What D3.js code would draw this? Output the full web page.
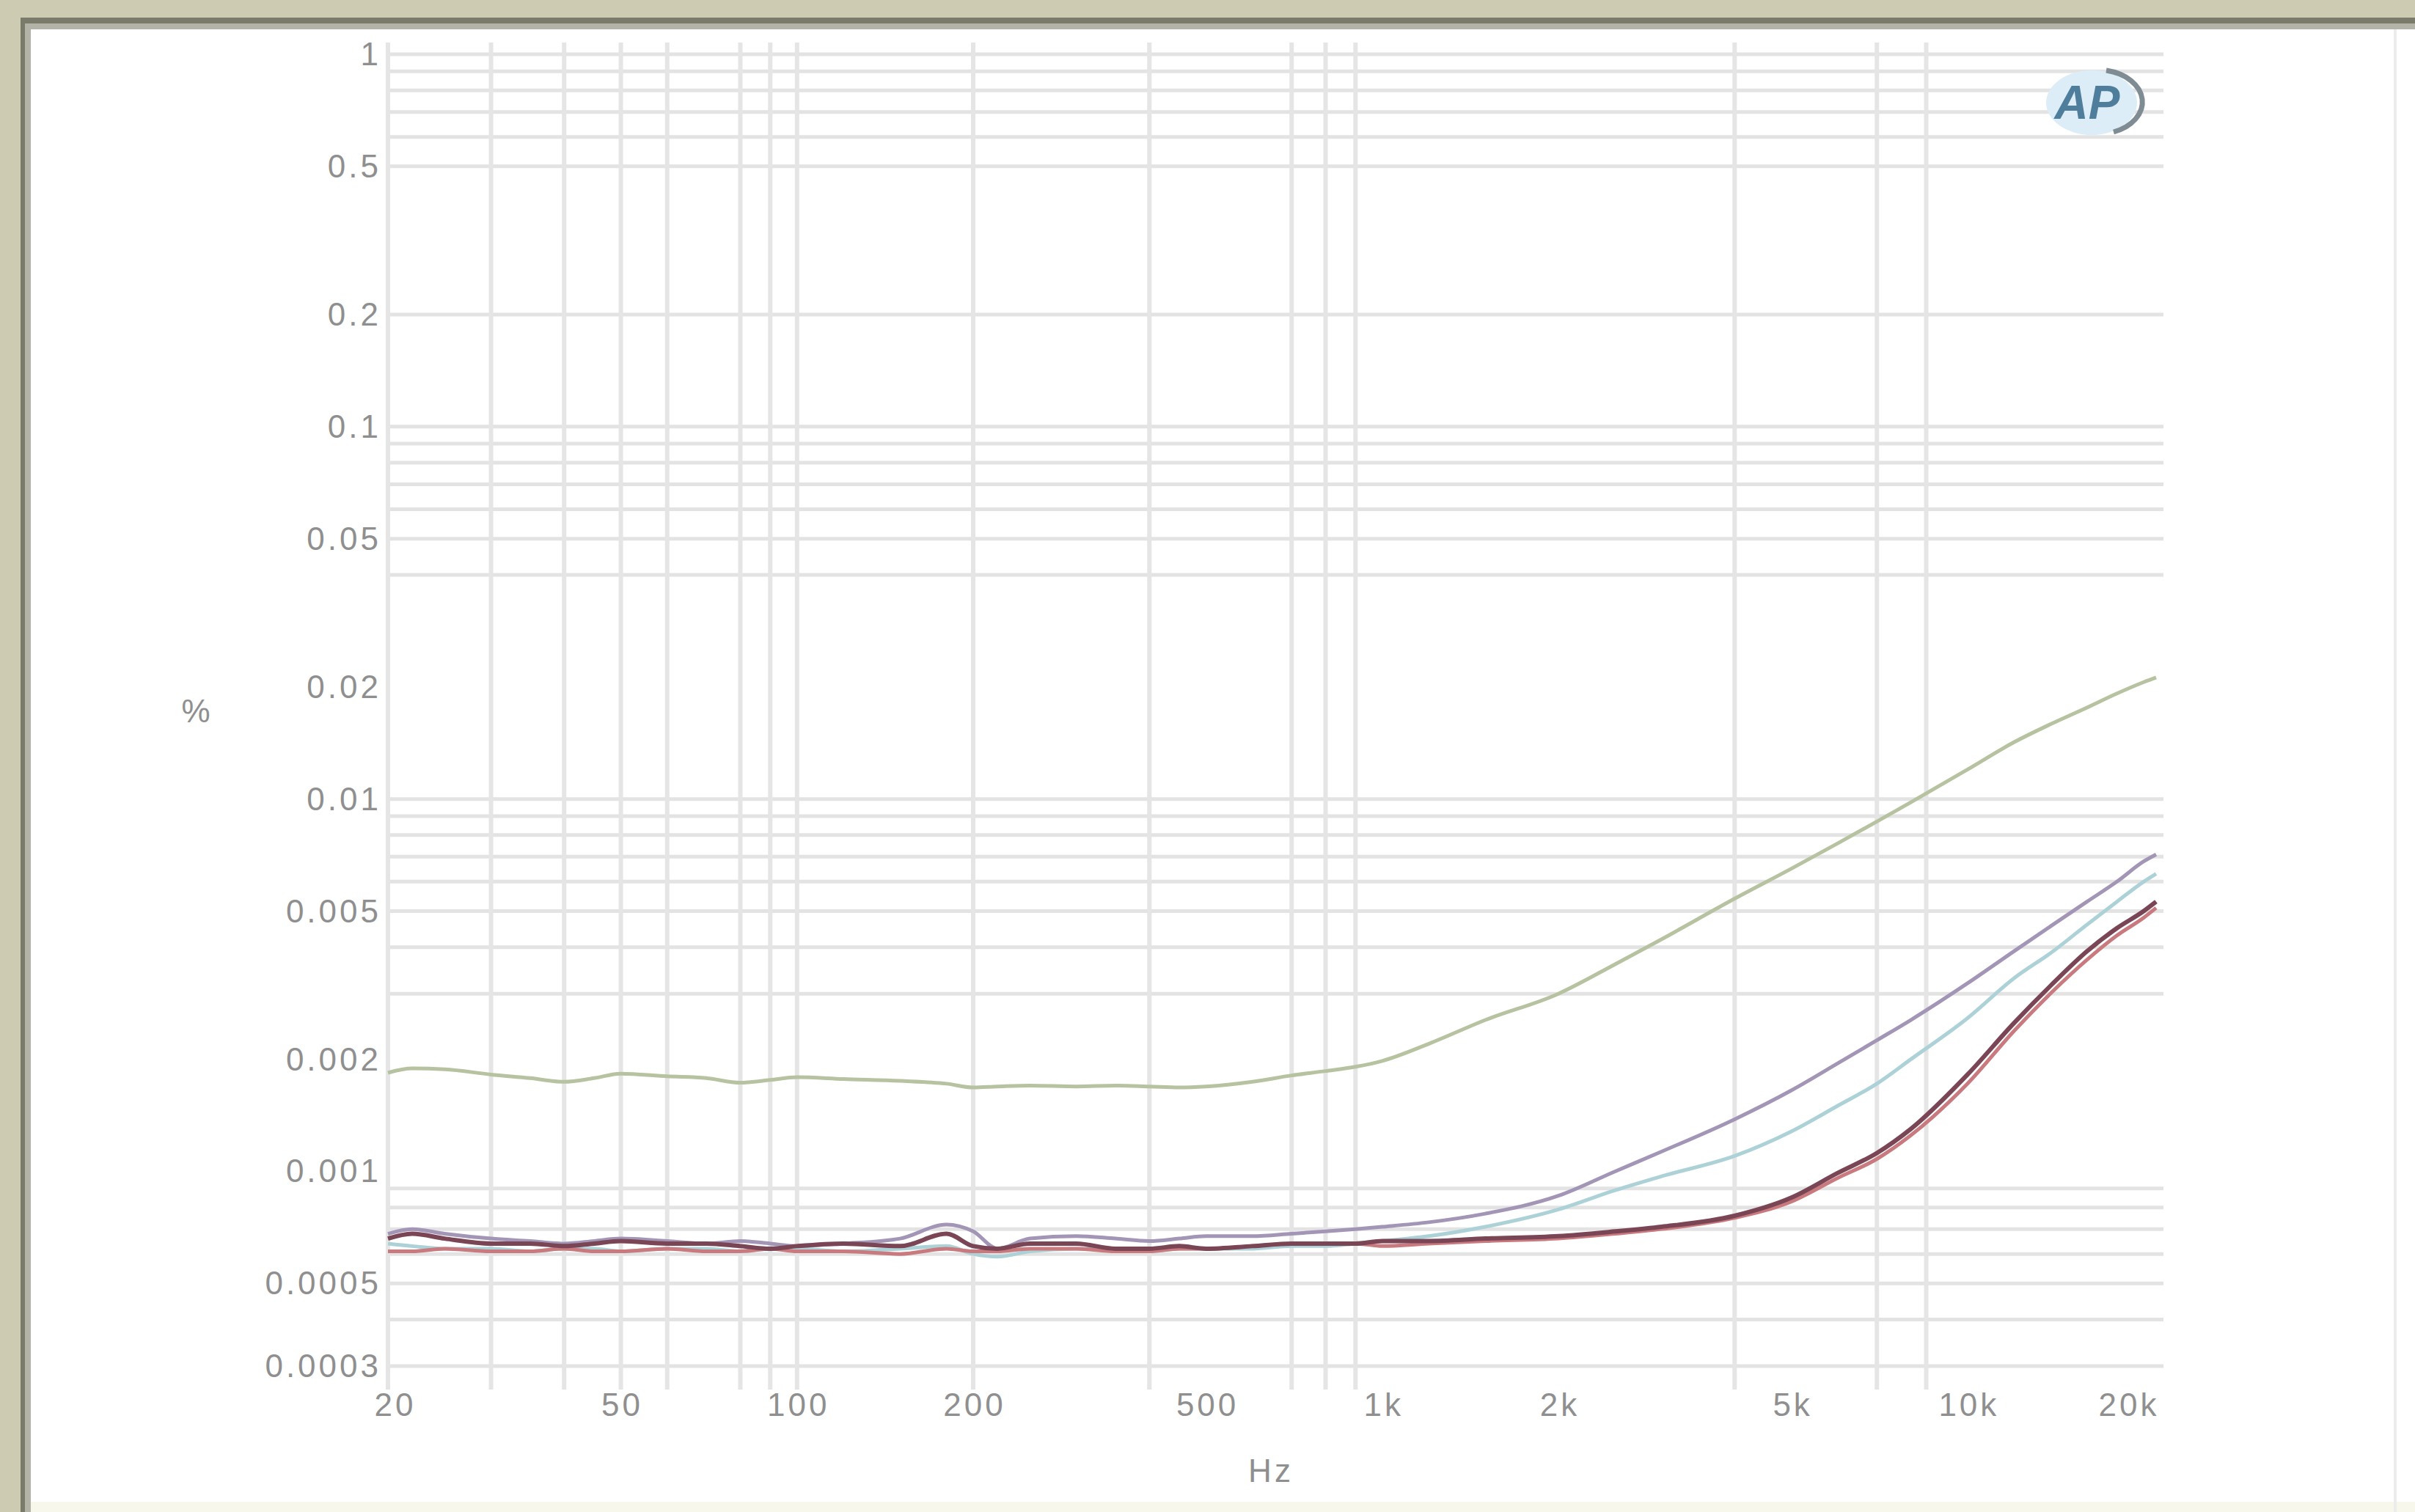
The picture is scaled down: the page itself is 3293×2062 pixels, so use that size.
<!DOCTYPE html>
<html>

<head>
    <meta charset="UTF-8">
    <title>THD+N vs frequency</title>
    <style>
        body { margin: 0; background: #ffffff; }
        text { font-family: "Liberation Sans", Arial, sans-serif; }
    </style>
</head>

<body>

    <svg id="thd"></svg>

    <script src="https://cdn.jsdelivr.net/npm/d3@7/dist/d3.min.js"></script>
    <script>
        const width = 3293;
        const height = 2062;

        // sweep frequencies (Hz), shared by every trace
        const freqs = [20, 22, 25, 30, 35, 40, 45, 50, 60, 70, 80, 90, 100, 120, 150, 180, 200, 220, 250, 300,
            350, 400, 450, 500, 600, 700, 800, 900, 1000, 1200, 1500, 2000, 2500, 3000, 4000, 5000, 6000,
            7000, 8000, 10000, 12000, 14000, 16000, 18000, 20000, 21000];

        // THD+N in %
        const greenVals = [0.00184, 0.00189, 0.00188, 0.00182, 0.00178, 0.00174, 0.00178, 0.00183, 0.00180, 0.00178,
            0.00173, 0.00176, 0.00179, 0.00177, 0.00175, 0.00172, 0.00168, 0.00169, 0.00170, 0.00169,
            0.00170, 0.00169, 0.00168, 0.00169, 0.00174, 0.00181, 0.00186, 0.00191, 0.00198, 0.0022, 0.00255,
            0.0030, 0.0036, 0.0042, 0.0054, 0.0065, 0.0076, 0.0087, 0.0098, 0.0120, 0.0142, 0.0160, 0.0176,
            0.0192, 0.0206, 0.0212];
        const cyanVals = [0.00064, 0.00063, 0.00062, 0.00062, 0.00061, 0.00062, 0.00062, 0.00061, 0.00062, 0.00062,
            0.00061, 0.00062, 0.00062, 0.00061, 0.00062, 0.00063, 0.00060, 0.00059, 0.00061, 0.00062,
            0.00062, 0.00061, 0.00062, 0.00062, 0.00062, 0.00063, 0.00063, 0.00064, 0.00065, 0.00067, 0.00071,
            0.00079, 0.00089, 0.00097, 0.00110, 0.00128, 0.00150, 0.00172, 0.00200, 0.00258, 0.0033, 0.0039,
            0.0046, 0.0053, 0.0060, 0.0063];
        const purpleVals = [0.00068, 0.00070, 0.00068, 0.00066, 0.00065, 0.00064, 0.00065, 0.00066, 0.00065, 0.00064,
            0.00065, 0.00064, 0.00063, 0.00064, 0.00066, 0.00072, 0.00069, 0.00062, 0.00066, 0.00067,
            0.00066, 0.00065, 0.00066, 0.00067, 0.00067, 0.00068, 0.00069, 0.00070, 0.00071, 0.00073, 0.00077,
            0.00086, 0.00100, 0.00113, 0.00138, 0.00165, 0.00195, 0.00225, 0.00255, 0.0032, 0.0039, 0.0046,
            0.0053, 0.0060, 0.0068, 0.0071];
        const redVals = [0.00061, 0.00061, 0.00062, 0.00061, 0.00061, 0.00062, 0.00061, 0.00061, 0.00062, 0.00061,
            0.00061, 0.00062, 0.00061, 0.00061, 0.00060, 0.00062, 0.00061, 0.00061, 0.00062, 0.00062,
            0.00061, 0.00061, 0.00062, 0.00062, 0.00063, 0.00064, 0.00064, 0.00064, 0.00063, 0.00064, 0.00065,
            0.00066, 0.00068, 0.00070, 0.00075, 0.00083, 0.00096, 0.00108, 0.00125, 0.00172, 0.00238, 0.00305,
            0.0037, 0.0043, 0.0048, 0.0051];
        const maroonVals = [0.00066, 0.00068, 0.00066, 0.00064, 0.00064, 0.00063, 0.00064, 0.00065, 0.00064, 0.00064,
            0.00063, 0.00062, 0.00063, 0.00064, 0.00063, 0.00068, 0.00063, 0.00062, 0.00064, 0.00064,
            0.00062, 0.00062, 0.00063, 0.00062, 0.00063, 0.00064, 0.00064, 0.00064, 0.00065, 0.00065, 0.00066,
            0.00067, 0.00069, 0.00071, 0.00076, 0.00085, 0.00099, 0.00112, 0.00130, 0.00182, 0.00250, 0.0032,
            0.0039, 0.0045, 0.0050, 0.0053];

        const seriesNames = ['green', 'cyan', 'purple', 'red', 'maroon'];
        const seriesVals = [greenVals, cyanVals, purpleVals, redVals, maroonVals];
        const seriesColors = ['#b6c2a0', '#acd2d8', '#a395b6', '#c97a7e', '#7a4656'];
        const seriesWidths = [5, 5, 5, 5, 6];

        // axis labels
        const yTickVals = [1, 0.5, 0.2, 0.1, 0.05, 0.02, 0.01, 0.005, 0.002, 0.001, 0.0005, 0.0003];
        const yTickText = ['1', '0.5', '0.2', '0.1', '0.05', '0.02', '0.01', '0.005', '0.002', '0.001', '0.0005', '0.0003'];
        const xTickVals = [20, 50, 100, 200, 500, 1000, 2000, 5000, 10000, 20000];
        const xTickText = ['20', '50', '100', '200', '500', '1k', '2k', '5k', '10k', '20k'];

        // grid lines that show in the picture
        const yGridVals = [1, 0.9, 0.8, 0.7, 0.6, 0.5, 0.2, 0.1, 0.09, 0.08, 0.07, 0.06, 0.05, 0.04,
            0.01, 0.009, 0.008, 0.007, 0.006, 0.005, 0.004, 0.003,
            0.0009, 0.0008, 0.0007, 0.0006, 0.0005, 0.0004, 0.0003];
        const xGridVals = [20, 30, 40, 50, 60, 80, 90, 100, 200, 400, 700, 800, 900, 4000, 7000, 8500];

        const svg = d3.select('#thd')
            .attr('width', width)
            .attr('height', height);

        // window frame
        svg.append('rect').attr('x', 0).attr('y', 0).attr('width', width).attr('height', height)
            .style('fill', '#cdcbb1');
        svg.append('rect').attr('x', 28).attr('y', 24).attr('width', width - 28).attr('height', height - 24)
            .style('fill', '#7b7b6b');
        svg.append('rect').attr('x', 34).attr('y', 32).attr('width', width - 34).attr('height', height - 32)
            .style('fill', '#b3b4a7');
        svg.append('rect').attr('x', 42).attr('y', 40).attr('width', width - 42).attr('height', height - 40)
            .style('fill', '#ffffff');
        svg.append('rect').attr('x', 42).attr('y', height - 14).attr('width', width - 42).attr('height', 14)
            .style('fill', '#f8f7ec');
        svg.append('line').attr('x1', 3266).attr('x2', 3266).attr('y1', 40).attr('y2', height)
            .style('stroke', '#ececec').style('stroke-width', 4);

        const x = d3.scaleLog().domain([20, 21000]).range([529, 2940]);
        const y = d3.scaleLog().domain([0.0003, 1]).range([1863, 74]);

        const grid = svg.append('g').attr('class', 'grid');
        grid.selectAll('line.h')
            .data(yGridVals)
            .enter()
            .append('line')
            .attr('class', 'h')
            .attr('x1', x(20))
            .attr('x2', x(21000) + 10)
            .attr('y1', d => y(d))
            .attr('y2', d => y(d))
            .style('stroke', '#e3e3e3')
            .style('stroke-width', 5);
        grid.selectAll('line.v')
            .data(xGridVals)
            .enter()
            .append('line')
            .attr('class', 'v')
            .attr('x1', d => x(d))
            .attr('x2', d => x(d))
            .attr('y1', y(1) - 16)
            .attr('y2', y(0.0003) + 32)
            .style('stroke', '#e5e5e5')
            .style('stroke-width', 6);

        // traces
        const line = d3.line()
            .x((d, i) => x(freqs[i]))
            .y(d => y(d))
            .curve(d3.curveMonotoneX);

        svg.append('g')
            .attr('class', 'traces')
            .selectAll('path')
            .data(seriesVals)
            .enter()
            .append('path')
            .attr('class', (d, i) => 'trace ' + seriesNames[i])
            .attr('d', line)
            .style('fill', 'none')
            .style('stroke', (d, i) => seriesColors[i])
            .style('stroke-width', (d, i) => seriesWidths[i])
            .style('stroke-linejoin', 'round');

        const labelStyle = sel => sel
            .style('font-size', '44px')
            .style('letter-spacing', '4px')
            .style('fill', '#8f8f8f');

        // y axis labels
        svg.append('g')
            .selectAll('text')
            .data(yTickVals)
            .enter()
            .append('text')
            .attr('x', 520)
            .attr('y', d => y(d) + 15)
            .attr('text-anchor', 'end')
            .call(labelStyle)
            .text((d, i) => yTickText[i]);

        // x axis labels
        svg.append('g')
            .selectAll('text')
            .data(xTickVals)
            .enter()
            .append('text')
            .attr('x', (d, i) => x(d) + 2 + (i === 0 ? 8 : 0) + (i === xTickVals.length - 1 ? -22 : 0))
            .attr('y', 1931)
            .attr('text-anchor', 'middle')
            .call(labelStyle)
            .text((d, i) => xTickText[i]);

        svg.append('text')
            .attr('x', 1733)
            .attr('y', 2021)
            .attr('text-anchor', 'middle')
            .call(labelStyle)
            .text('Hz');

        svg.append('text')
            .attr('x', 269)
            .attr('y', 985)
            .attr('text-anchor', 'middle')
            .call(labelStyle)
            .text('%');

        // AP logo
        const logo = svg.append('g').attr('transform', 'translate(2852,140)');
        logo.append('ellipse')
            .attr('rx', 62).attr('ry', 44)
            .style('fill', '#dcedf7')
            .style('stroke', 'none');
        logo.append('path')
            .attr('d', 'M 20 -44 A 62 44 0 0 1 30 40')
            .style('fill', 'none')
            .style('stroke', '#7f8c94')
            .style('stroke-width', 7);
        logo.append('text')
            .attr('x', -6)
            .attr('y', 22)
            .attr('text-anchor', 'middle')
            .style('font-size', '64px')
            .style('font-style', 'italic')
            .style('font-weight', 'bold')
            .style('fill', '#4f7d9c')
            .text('AP');
    </script>
</body>

</html>
